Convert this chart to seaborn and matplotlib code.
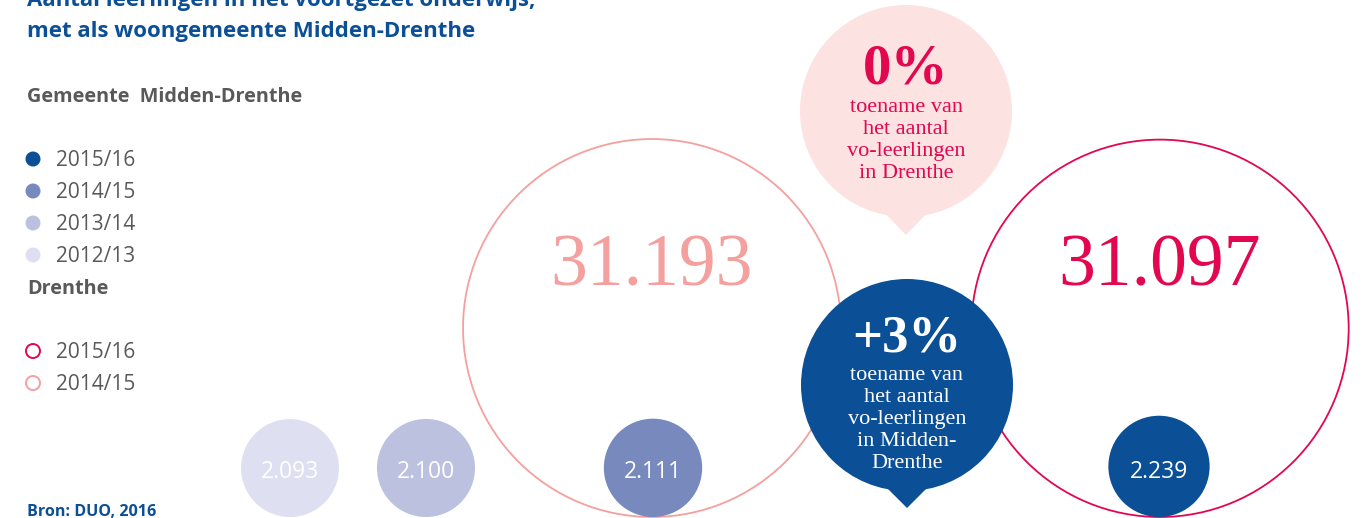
import numpy as np
import pandas as pd
import matplotlib.pyplot as plt
import seaborn as sns
from matplotlib.patches import Circle, Polygon

# === 1. Data ===
years_md = ['2012/13', '2013/14', '2014/15', '2015/16']
pupils_md = [2093, 2100, 2111, 2239]
years_dr = ['2014/15', '2015/16']
pupils_dr = [31193, 31097]
growth_dr = '0%'
growth_md = '+3%'

# === 2. Style ===
blue = '#0b4f96'
grey = '#595959'
crimson = '#e2074f'
salmon = '#f4a09e'
pink = '#fde2e2'
md_colors = {'2012/13': '#dee0f1', '2013/14': '#bdc1e0',
             '2014/15': '#7889bd', '2015/16': blue}
dr_colors = {'2014/15': salmon, '2015/16': crimson}
sans = 'Open Sans'
serif = 'Liberation Serif'

W, H, dpi = 1363, 518, 100
pt = 72 / dpi          # points per pixel
k = 1.07               # radius = k * sqrt(value), area proportional
base_y = 517           # all circles rest on one baseline


def dutch(v):
    return f"{v:,}".replace(',', '.')


sns.set_theme(style='white')
fig = plt.figure(figsize=(W / dpi, H / dpi), dpi=dpi)
ax = fig.add_axes([0, 0, 1, 1])

# === 3. Circles for Midden-Drenthe (filled) and Drenthe (rings) ===
md = pd.DataFrame({'year': years_md, 'pupils': pupils_md,
                   'x': [290, 426, 653, 1159]})
md['r'] = k * np.sqrt(md['pupils'])
md['y'] = base_y - md['r']

dr = pd.DataFrame({'year': years_dr, 'pupils': pupils_dr, 'x': [652, 1160]})
dr['r'] = k * np.sqrt(dr['pupils'])
dr['y'] = base_y - dr['r']

for _, row in dr.iterrows():
    sns.scatterplot(x=[row.x], y=[row.y], s=(2 * row.r * pt) ** 2,
                    marker='o', facecolors='none',
                    edgecolors=dr_colors[row.year], linewidth=1.3,
                    legend=False, ax=ax, zorder=1)
    ax.text(row.x, 285, dutch(row.pupils), family=serif, fontsize=53,
            color=dr_colors[row.year], ha='center', va='baseline', zorder=5)

sns.scatterplot(data=md, x='x', y='y', hue='year', palette=md_colors,
                s=(2 * md['r'] * pt) ** 2, linewidth=0, legend=False,
                ax=ax, zorder=2)
for _, row in md.iterrows():
    ax.text(row.x, 478, dutch(row.pupils), family=sans, fontsize=16.5,
            color='white', ha='center', va='baseline', zorder=5)

# === 4. Speech bubbles with growth figures ===
def bubble(cx, cy, tip_y, color):
    ax.add_patch(Circle((cx, cy), 106, color=color, lw=0, zorder=3))
    ax.add_patch(Polygon([(cx - 26, cy + 97), (cx + 26, cy + 97), (cx, tip_y)],
                         closed=True, color=color, lw=0, zorder=3))


bubble(906, 111, 235, pink)
ax.text(906, 83, growth_dr, family=serif, weight='bold', fontsize=41,
        color=crimson, ha='center', va='baseline', zorder=5)
for i, line in enumerate(['toename van', 'het aantal', 'vo-leerlingen',
                          'in Drenthe']):
    ax.text(906, 112 + i * 22, line, family=serif, fontsize=16,
            color=crimson, ha='center', va='baseline', zorder=5)

bubble(907, 385, 508, blue)
ax.text(907, 352, growth_md, family=serif, weight='bold', fontsize=38,
        color='white', ha='center', va='baseline', zorder=5)
for i, line in enumerate(['toename van', 'het aantal', 'vo-leerlingen',
                          'in Midden-', 'Drenthe']):
    ax.text(907, 380 + i * 22, line, family=serif, fontsize=16,
            color='white', ha='center', va='baseline', zorder=5)

# === 5. Title, legend, source ===
ax.text(27, 6, 'Aantal leerlingen in het voortgezet onderwijs,', family=sans,
        weight='bold', fontsize=16, color=blue, va='baseline')
ax.text(27, 37, 'met als woongemeente Midden-Drenthe', family=sans,
        weight='bold', fontsize=16, color=blue, va='baseline')
ax.text(27, 102, 'Gemeente  Midden-Drenthe', family=sans, weight='bold',
        fontsize=14.3, color=grey, va='baseline')
ax.text(27, 294, 'Drenthe', family=sans, weight='bold', fontsize=14.3,
        color=grey, va='baseline')

leg_md = pd.DataFrame({'year': years_md[::-1], 'y': [159, 191, 223, 255]})
sns.scatterplot(data=leg_md, x=[33] * 4, y='y', hue='year', palette=md_colors,
                s=(15 * pt) ** 2, linewidth=0, legend=False, ax=ax)
for _, row in leg_md.iterrows():
    ax.text(56, row.y + 7.5, row.year, family=sans, fontsize=15, color=grey,
            va='baseline')

leg_dr = pd.DataFrame({'year': years_dr[::-1], 'y': [351, 383]})
for _, row in leg_dr.iterrows():
    sns.scatterplot(x=[33], y=[row.y], s=(14 * pt) ** 2, marker='o',
                    facecolors='none', edgecolors=dr_colors[row.year],
                    linewidth=1.4, legend=False, ax=ax)
    ax.text(56, row.y + 7.5, row.year, family=sans, fontsize=15, color=grey,
            va='baseline')

ax.text(27, 516, 'Bron: DUO, 2016', family=sans, weight='bold', fontsize=11.6,
        color=blue, va='baseline')

ax.set_xlim(0, W)
ax.set_ylim(H, 0)
ax.axis('off')
fig.savefig('out.png', dpi=dpi, facecolor='white')
